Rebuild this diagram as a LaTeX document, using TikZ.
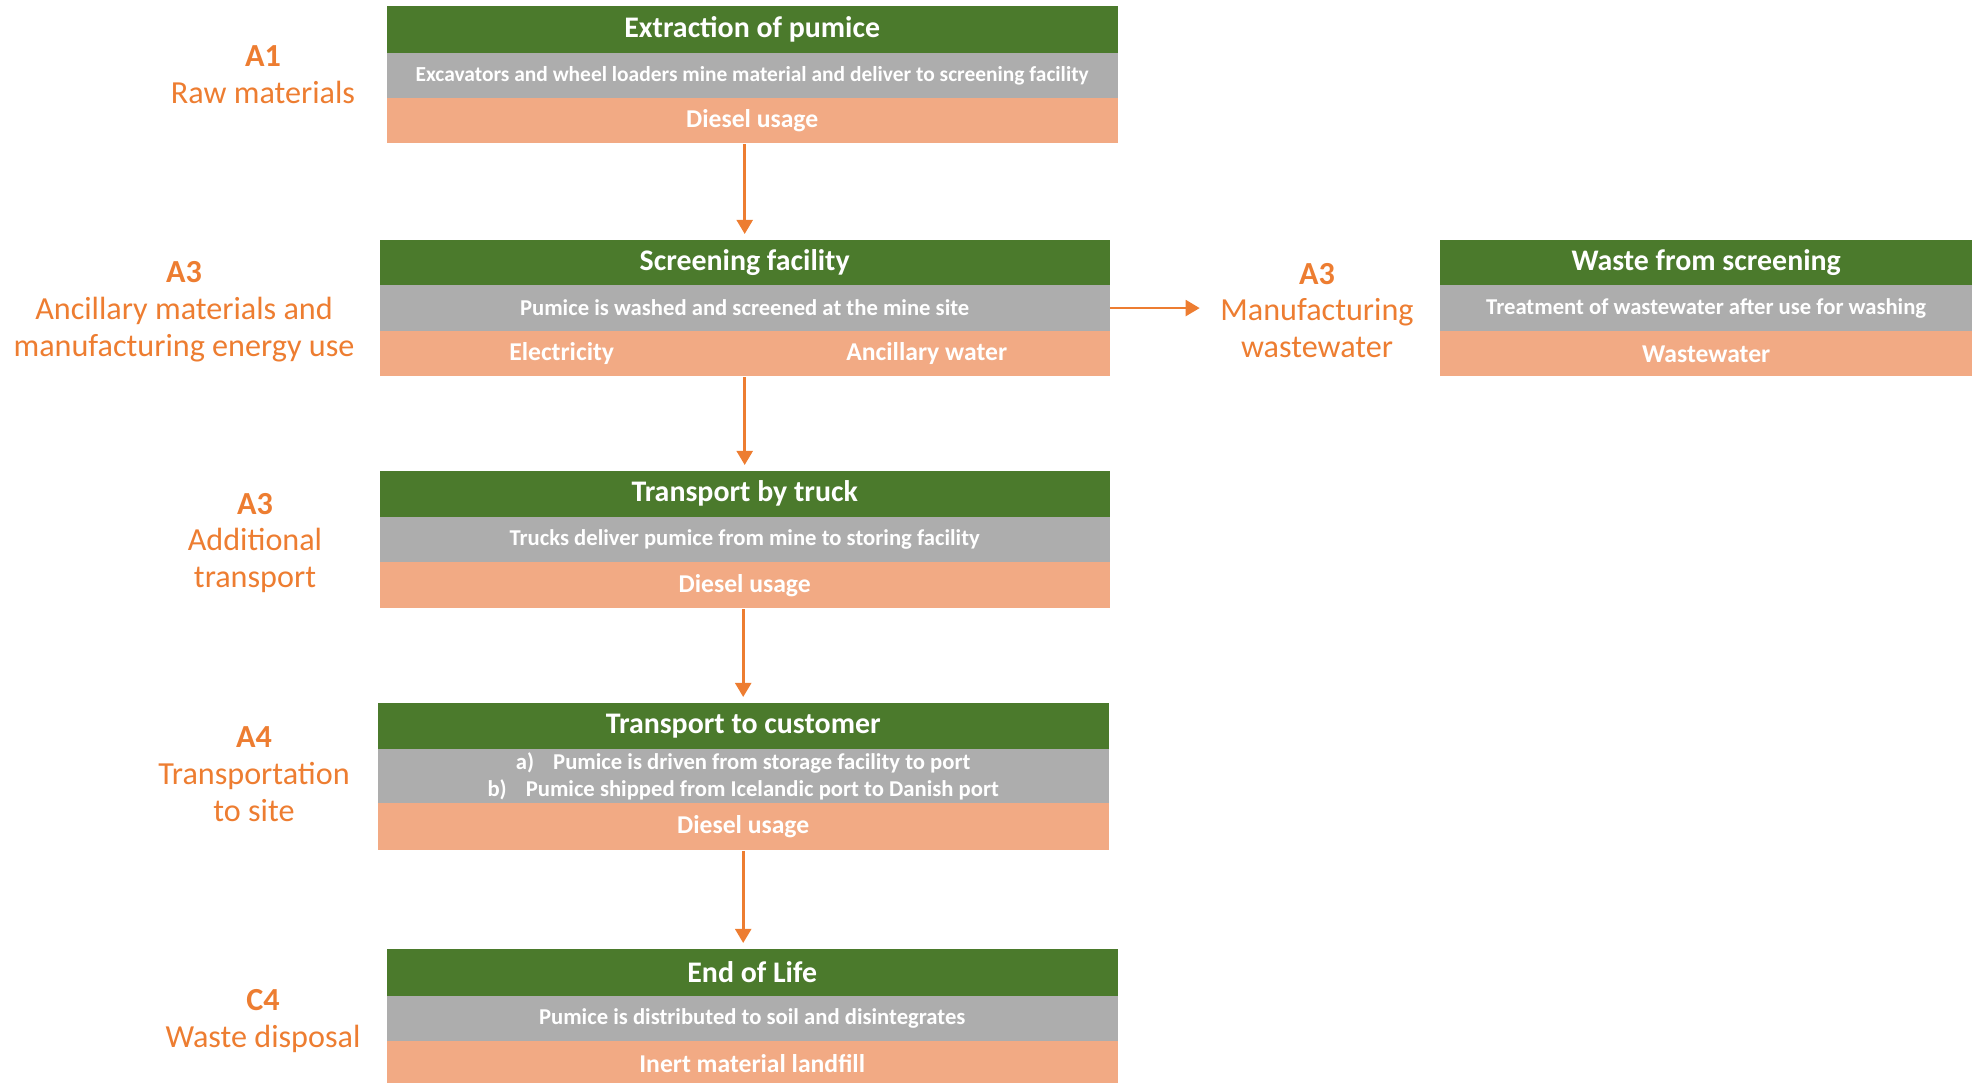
\documentclass[tikz,border=0pt]{standalone}
\usepackage{fontspec}
\setmainfont{Carlito}
\usepackage{tikz}
\usetikzlibrary{positioning, arrows.meta}

\definecolor{bandgreen}{HTML}{4B7A2C}
\definecolor{bandgray}{HTML}{ADADAD}
\definecolor{bandsalmon}{HTML}{F2AA84}
\definecolor{stageorange}{HTML}{ED7D31}

\tikzset{
  band/.style={anchor=north west, inner sep=0pt, text=white},
  titleband/.style={band, fill=bandgreen, font=\fontsize{8.5}{10}\selectfont\bfseries},
  descband/.style={band, fill=bandgray, font=\fontsize{6.45}{7.7}\selectfont\bfseries},
  useband/.style={band, fill=bandsalmon, font=\fontsize{7.3}{9}\selectfont\bfseries},
  usetext/.style={inner sep=0pt, text=white, font=\fontsize{7.3}{9}\selectfont\bfseries},
  stage/.style={inner sep=0pt, text=stageorange, align=center, font=\fontsize{9.15}{10.5}\selectfont},
  flow/.style={-{Triangle[length=4pt,width=4.5pt]}, stageorange, line width=0.8pt, shorten >=0.05cm}
}

\begin{document}
\begin{tikzpicture}[y=-1cm]
      \useasboundingbox (0,0) rectangle (19.72,10.82);
      % process boxes
      \node[titleband, minimum width=7.31cm, minimum height=0.47cm] (extr) at (3.86,0.05) {Extraction of pumice};
      \node[descband, font=\fontsize{6.1}{7.5}\selectfont\bfseries, minimum width=7.31cm, minimum height=0.45cm, below=-0.3pt of extr] (extrdesc)
      {Excavators and wheel loaders mine material and deliver to screening facility};
      \node[useband, minimum width=7.31cm, minimum height=0.45cm, below=-0.3pt of extrdesc] (extruse) {Diesel usage};

      \node[titleband, minimum width=7.30cm, minimum height=0.45cm] (scr) at (3.79,2.39) {Screening facility};
      \node[descband, minimum width=7.30cm, minimum height=0.46cm, below=-0.3pt of scr] (scrdesc)
      {Pumice is washed and screened at the mine site};
      \node[useband, minimum width=7.30cm, minimum height=0.45cm, below=-0.3pt of scrdesc] (scruse) {};
      \node[usetext] (elec) at ([xshift=-1.83cm]scruse.center) {Electricity};
      \node[usetext] (water) at ([xshift=1.82cm]scruse.center) {Ancillary water};

      \node[titleband, minimum width=5.33cm, minimum height=0.45cm] (waste) at (14.39,2.39) {Waste from screening};
      \node[descband, minimum width=5.33cm, minimum height=0.46cm, below=-0.3pt of waste] (wastedesc)
      {Treatment of wastewater after use for washing};
      \node[useband, minimum width=5.33cm, minimum height=0.45cm, below=-0.3pt of wastedesc] (wasteuse) {Wastewater};

      \node[titleband, minimum width=7.30cm, minimum height=0.46cm] (truck) at (3.79,4.70) {Transport by truck};
      \node[descband, minimum width=7.30cm, minimum height=0.45cm, below=-0.3pt of truck] (truckdesc)
      {Trucks deliver pumice from mine to storing facility};
      \node[useband, minimum width=7.30cm, minimum height=0.46cm, below=-0.3pt of truckdesc] (truckuse) {Diesel usage};

      \node[titleband, minimum width=7.31cm, minimum height=0.46cm] (cust) at (3.77,7.02) {Transport to customer};
      \node[descband, minimum width=7.31cm, minimum height=0.54cm, align=center, below=-0.3pt of cust] (custdesc)
      {a)\hspace{0.19cm}Pumice is driven from storage facility to port \\
        b)\hspace{0.19cm}Pumice shipped from Icelandic port to Danish port};
      \node[useband, minimum width=7.31cm, minimum height=0.47cm, below=-0.3pt of custdesc] (custuse) {Diesel usage};

      \node[titleband, minimum width=7.31cm, minimum height=0.47cm] (eol) at (3.86,9.48) {End of Life};
      \node[descband, minimum width=7.31cm, minimum height=0.45cm, below=-0.3pt of eol] (eoldesc)
      {Pumice is distributed to soil and disintegrates};
      \node[useband, minimum width=7.31cm, minimum height=0.45cm, below=-0.3pt of eoldesc] (eoluse) {Inert material landfill};

      % stage labels
      \node[stage] (rawlbl) at (2.63,0.745) {\textbf{A1} \\ Raw materials};
      \node[stage] (anclbl) at (1.84,3.115) {\textbf{A3} \\ Ancillary materials and \\ manufacturing energy use};
      \node[stage] (wastelbl) at (13.17,3.105) {\textbf{A3} \\ Manufacturing \\ wastewater};
      \node[stage] (addlbl) at (2.55,5.43) {\textbf{A3} \\ Additional \\ transport};
      \node[stage] (sitelbl) at (2.54,7.745) {\textbf{A4} \\ Transportation \\ to site};
      \node[stage] (displbl) at (2.63,10.21) {\textbf{C4} \\ Waste disposal};

      % flow
      \draw[flow] (extruse.south -| scr.north) -- (scr.north);
      \draw[flow] (scruse.south -| truck.north) -- (truck.north);
      \draw[flow] (truckuse.south -| cust.north) -- (cust.north);
      \draw[flow] (custuse.south -| cust.north) -- (eol.north -| cust.north);
      \draw[flow, shorten >=0.2cm] (scrdesc.east) -- (scrdesc.east -| wastelbl.west);
    \end{tikzpicture}
\end{document}
